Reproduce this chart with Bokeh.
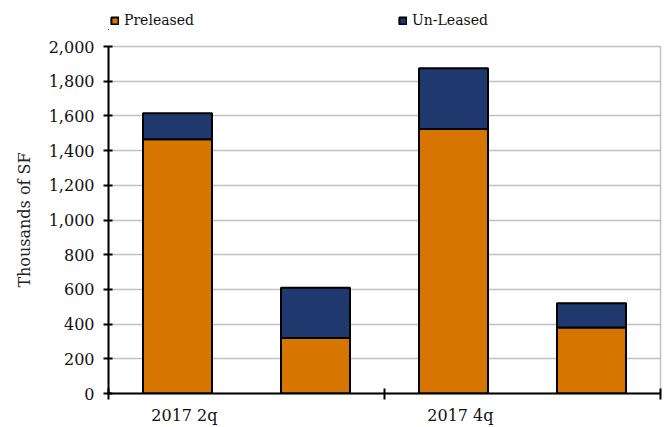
from bokeh.plotting import figure
from bokeh.layouts import column
from bokeh.models import (Range1d, FixedTicker, NumeralTickFormatter, Legend,
                          LegendItem, ColumnDataSource)
from bokeh.embed import file_html
from bokeh.resources import INLINE

# ---- data ----
quarters = ["2017 2q", "2017 3q", "2017 4q", "2018 1q"]
preleased = [1465, 320, 1525, 380]
unleased = [150, 290, 350, 140]
shown_labels = ["2017 2q", "2017 4q"]
y_ticks = [0, 200, 400, 600, 800, 1000, 1200, 1400, 1600, 1800, 2000]
series_names = ["Preleased", "Un-Leased"]

ORANGE = "#D67600"
NAVY = "#1F386E"
COLORS = [ORANGE, NAVY]
FONT = "DejaVu Serif"

xs = [i + 0.5 for i in range(len(quarters))]
source = ColumnDataSource(dict(x=xs, pre=preleased, un=unleased))

# ---- main chart ----
p = figure(width=665, height=397, output_backend="svg", toolbar_location=None,
           x_range=Range1d(0, len(quarters)), y_range=Range1d(0, 2000),
           min_border_left=108, min_border_right=5, min_border_top=16,
           min_border_bottom=33)
p.background_fill_color = "white"
p.border_fill_color = "white"
p.outline_line_color = "#C0C0C0"
p.outline_line_width = 1.5

rs = p.vbar_stack(["pre", "un"], x="x", width=0.5, source=source,
                  fill_color=COLORS, line_color="black", line_width=2)

# y axis
p.yaxis.ticker = FixedTicker(ticks=y_ticks)
p.yaxis.formatter = NumeralTickFormatter(format="0,0")
p.yaxis.axis_label = "Thousands of SF"
p.yaxis.axis_label_text_font = FONT
p.yaxis.axis_label_text_font_style = "normal"
p.yaxis.axis_label_text_font_size = "16px"
p.yaxis.axis_label_text_color = "#222222"
p.yaxis.axis_label_standoff = 12
p.yaxis.major_label_text_font = FONT
p.yaxis.major_label_text_font_size = "16px"
p.yaxis.major_label_text_color = "#111111"
p.yaxis.major_tick_in = 4
p.yaxis.major_tick_out = 5
p.yaxis.major_tick_line_width = 2
p.yaxis.minor_tick_line_color = None
p.yaxis.axis_line_width = 2
p.yaxis.major_label_standoff = 9

# x axis: tick marks at every second category boundary, labels under bars
label_pos = [round(quarters.index(l) + 0.55, 2) for l in shown_labels]
boundaries = list(range(0, len(quarters) + 1, 2))
p.xaxis.ticker = FixedTicker(ticks=label_pos, minor_ticks=boundaries)
p.xaxis.major_label_overrides = {pos: lab for pos, lab in zip(label_pos, shown_labels)}
p.xaxis.major_tick_line_color = None
p.xaxis.major_tick_in = 0
p.xaxis.major_tick_out = 0
p.xaxis.minor_tick_in = 5
p.xaxis.minor_tick_out = 6
p.xaxis.minor_tick_line_width = 2
p.xaxis.axis_line_width = 2
p.xaxis.major_label_standoff = 6
p.xaxis.major_label_text_font = FONT
p.xaxis.major_label_text_font_size = "16px"
p.xaxis.major_label_text_color = "#111111"

p.xgrid.grid_line_color = None
p.ygrid.ticker = FixedTicker(ticks=y_ticks)
p.ygrid.grid_line_color = "#C0C0C0"
p.ygrid.grid_line_width = 1.5

# ---- legend strip above the chart (its bars lie far outside its visible ranges) ----
lg = figure(width=665, height=30, output_backend="svg", toolbar_location=None,
            x_range=Range1d(100, 104), y_range=Range1d(50000, 60000),
            x_axis_location=None, y_axis_location=None, min_border=0)
lg.outline_line_color = None
lg.xgrid.grid_line_color = None
lg.ygrid.grid_line_color = None
lg.background_fill_color = "white"
lg.border_fill_color = "white"

key_renderers = lg.vbar_stack(["pre", "un"], x="x", width=0.5, source=source,
                              fill_color=COLORS, line_color="black", line_width=2)
legend = Legend(items=[LegendItem(label=n, renderers=[r])
                       for n, r in zip(series_names, key_renderers)],
                orientation="horizontal", location=(2, 0),
                border_line_color=None, background_fill_alpha=0,
                padding=0, margin=0, spacing=194, glyph_width=9, glyph_height=9,
                label_standoff=5, label_width=80, label_height=20,
                label_text_font=FONT, label_text_font_size="14px",
                label_text_color="#111111")
lg.add_layout(legend)

layout = column(lg, p, spacing=0)
open("out.html", "w").write(file_html(layout, INLINE))
